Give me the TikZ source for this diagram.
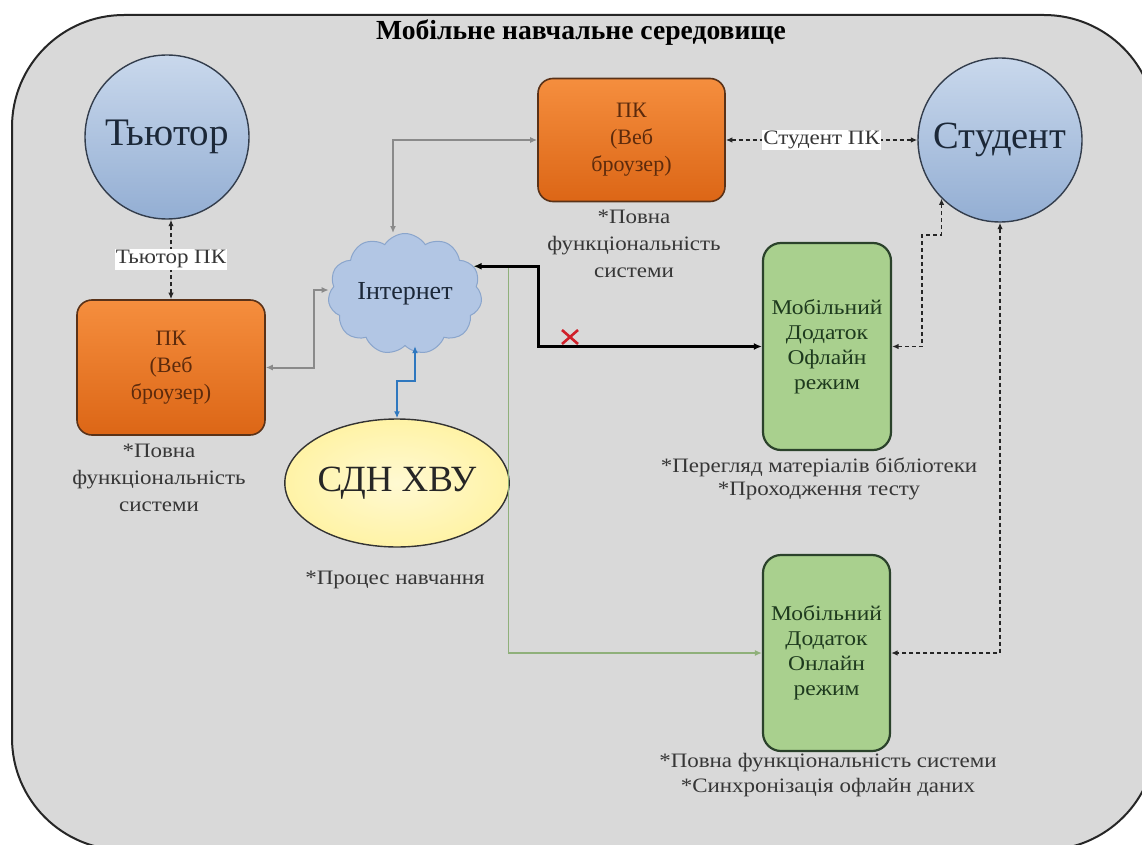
\documentclass[tikz,border=0pt]{standalone}
\usepackage{fontspec}
\setmainfont{Liberation Serif}
\newfontfamily\widefont{Liberation Serif}[FakeStretch=1.12]
\usetikzlibrary{arrows.meta,shapes.geometric,shapes.symbols}
\definecolor{bgray}{HTML}{D9D9D9}
\definecolor{circTop}{HTML}{C9D8EC}
\definecolor{circBot}{HTML}{93AED3}
\definecolor{orTop}{HTML}{F58E3E}
\definecolor{orBot}{HTML}{DC6616}
\definecolor{orLine}{HTML}{5A3218}
\definecolor{orText}{HTML}{5C2A0C}
\definecolor{grFill}{HTML}{A9D08E}
\definecolor{grLine}{HTML}{2B422B}
\definecolor{grText}{HTML}{1E3A1E}
\definecolor{yeFill}{HTML}{FFF3A6}
\definecolor{yeIn}{HTML}{FFF9D2}
\definecolor{clFill}{HTML}{B2C6E4}
\definecolor{clLine}{HTML}{8AA5CC}
\definecolor{noteText}{HTML}{363636}
\definecolor{navy}{HTML}{1C2838}
\definecolor{lgray}{HTML}{8A8A8A}
\definecolor{lgreen}{HTML}{8FB07A}
\definecolor{lblue}{HTML}{2F78BF}
\definecolor{xred}{HTML}{D0202A}
\tikzset{
  person/.style={circle, draw=navy!90, line width=1.4pt, minimum size=164pt, inner sep=0pt,
    top color=circTop, bottom color=circBot, text=navy},
  pcbox/.style={rectangle, rounded corners=15pt, draw=orLine, line width=1.6pt,
    top color=orTop, bottom color=orBot, text=orText, align=center,
    font=\fontsize{22}{27}\selectfont},
  appbox/.style={rectangle, rounded corners=18pt, draw=grLine, line width=2.2pt,
    fill=grFill, text=grText, align=center, minimum width=128pt,
    font=\widefont\fontsize{21}{25}\selectfont},
  note/.style={text=noteText, align=center, font=\widefont\fontsize{20.5}{27}\selectfont},
  labelbox/.style={fill=white, inner sep=1.2pt, text=noteText, font=\widefont\fontsize{20.5}{22}\selectfont},
  dashline/.style={draw=black!85, line width=1.9pt, dash pattern=on 4pt off 3pt,
    {Latex[length=6.5pt,width=5.5pt]}-{Latex[length=6.5pt,width=5.5pt]}},
  grayline/.style={draw=lgray, line width=2pt,
    {Latex[length=7pt,width=6pt]}-{Latex[length=7pt,width=6pt]}},
  blueline/.style={draw=lblue, line width=1.8pt,
    {Latex[length=7pt,width=6pt]}-{Latex[length=7pt,width=6pt]}},
  blackline/.style={draw=black, line width=2.6pt,
    {Latex[length=8pt,width=7pt]}-{Latex[length=8pt,width=7pt]}},
  greenline/.style={draw=lgreen, line width=1.3pt,
    {Latex[length=7pt,width=6pt]}-{Latex[length=7pt,width=6pt]}},
}
\begin{document}
\begin{tikzpicture}[x=1pt,y=-1pt]
\useasboundingbox (0,0) rectangle (1142,845);
\clip (0,0) rectangle (1142,845);
\fill[white] (0,0) rectangle (1142,845);
% environment frame
\draw[fill=bgray, draw=black!85, line width=2pt, rounded corners=112pt] (12,15) rectangle (1156,850);
\node[font=\bfseries\fontsize{27.6}{30}\selectfont, text=black] (title) at (581,33) {Мобільне навчальне середовище};

% nodes
\node[person, font=\fontsize{39}{42}\selectfont] (tutor) at (167,137) {Тьютор};
\node[person, font=\fontsize{38.5}{42}\selectfont] (student) at (1000,140) {Студент};
\node[pcbox, minimum width=188pt, minimum height=135pt] (pcL) at (171,367.5) {ПК\\(Веб\\броузер)};
\node[pcbox, minimum width=187pt, minimum height=123pt] (pcT) at (631.5,140) {ПК\\(Веб\\броузер)};
\node[cloud, cloud puffs=11, cloud puff arc=115, aspect=1.35, draw=clLine, line width=1pt,
      fill=clFill, minimum width=154pt, minimum height=121pt, inner sep=0pt,
      text=navy, font=\fontsize{26}{28}\selectfont] (cloud) at (405,294) {Інтернет};
\node[ellipse, draw=black!80, line width=1.4pt, inner color=yeIn, outer color=yeFill,
      minimum width=214pt, minimum height=128pt, inner sep=0pt, text=black!85,
      font=\fontsize{37}{40}\selectfont] (sdn) at (397,483) {СДН ХВУ};
\node[appbox, minimum height=207pt] (off) at (827,346.5) {Мобільний\\Додаток\\Офлайн\\режим};
\node[appbox, minimum height=196pt, minimum width=127pt] (on) at (826.5,653) {Мобільний\\Додаток\\Онлайн\\режим};

% notes
\node[note] (nL) at (159,478) {*Повна\\функціональність\\системи};
\node[note] (nT) at (634,244) {*Повна\\функціональність\\системи};
\node[note] (nS) at (395,580) {*Процес навчання};
\node[note, font=\widefont\fontsize{20.5}{23}\selectfont] (nOff) at (819,479) {*Перегляд матеріалів бібліотеки\\*Проходження тесту};
\node[note, font=\widefont\fontsize{20.5}{25}\selectfont] (nOn) at (828,775) {*Повна функціональність системи\\*Синхронізація офлайн даних};

% connectors
\draw[dashline] (pcL.north) -- (pcL.north |- tutor.south) node[midway, labelbox] (lT) {Тьютор ПК};
\draw[dashline] (pcT.east) -- (student.west) node[midway, labelbox] (lS) {Студент ПК};
\draw[grayline] (pcT.west) -| ([xshift=-12pt]cloud.north);
\draw[grayline] (pcL.east) -- ++(48,0) |- ([yshift=4pt]cloud.west);
\draw[blueline] ([xshift=10pt]cloud.south) -- ++(0,35) -| (sdn.north);
\draw[greenline] (cloud.22) -- ++(35,0) |- (on.west);
\draw[blackline] (cloud.22) -- ++(65,0) |- (off.west);
\draw[dashline] (off.east) -- ++(30,0) -- ++(0,-111.5) -| (student.225);
\draw[dashline] (student.south) |- (on.east);

% red cross on the offline link
\draw[xred, line width=2.6pt] (562,330) -- (578,344) (562,344) -- (578,330);
\end{tikzpicture}
\end{document}
